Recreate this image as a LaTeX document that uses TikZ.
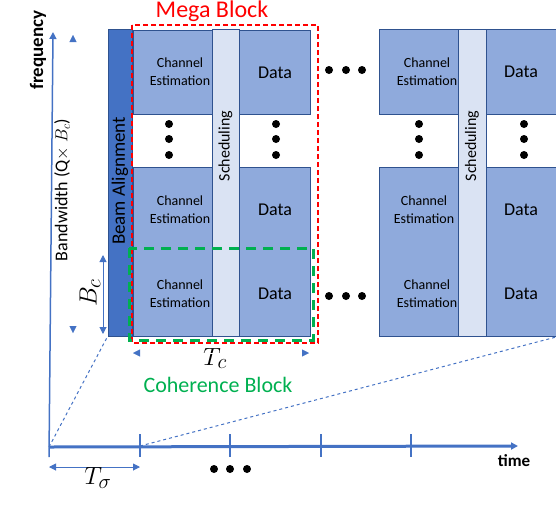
\documentclass[tikz,border=0pt]{standalone}
\usepackage{fontspec}
\setmainfont{Carlito}
\usetikzlibrary{arrows.meta}
\definecolor{cellblue}{HTML}{8FAADC}
\definecolor{schedblue}{HTML}{DAE3F3}
\definecolor{beamblue}{HTML}{4472C4}
\definecolor{edgeblue}{HTML}{2F528F}
\definecolor{axisblue}{HTML}{4472C4}
\definecolor{cohgreen}{HTML}{00B050}
\tikzset{
  cell/.style={draw=edgeblue, line width=0.8pt, fill=cellblue, inner sep=0pt},
  schedcol/.style={draw=edgeblue, line width=0.8pt, fill=schedblue, inner sep=0pt},
  cetext/.style={align=center, font=\fontsize{14}{18}\selectfont, inner sep=0pt},
  datatext/.style={font=\fontsize{18}{20}\selectfont, inner sep=0pt},
  tri/.tip={Triangle[length=7pt,width=7pt,color=axisblue]},
}
\begin{document}
\begin{tikzpicture}[x=1pt,y=-1pt]
\useasboundingbox (0,0) rectangle (556,520);
%\draw[step=50,gray,very thin] (0,0) grid (556,520); %background grid
\node[cell, fill=beamblue, minimum width=24, minimum height=307] (beam) at (120,182.5) {};
\node[cell, minimum width=79, minimum height=84] (ce1) at (172.5,72) {};
\node[cell, minimum width=79, minimum height=169] (ce2) at (172.5,251.5) {};
\node[cell, minimum width=71, minimum height=84] (da1) at (274.5,72) {};
\node[cell, minimum width=71, minimum height=169] (da2) at (274.5,251.5) {};
\node[cetext] (cet1) at (180,72) {Channel\\Estimation};
\node[cetext] (cet2) at (180,210) {Channel\\Estimation};
\node[cetext] (cet3) at (180,294) {Channel\\Estimation};
\node[schedcol, minimum width=27, minimum height=307] (sc1) at (225.5,182.5) {};
\node[datatext] (dat1) at (275,73) {Data};
\node[datatext] (dat2) at (275,210) {Data};
\node[datatext] (dat3) at (275,294) {Data};
\node[rotate=90, inner sep=0pt, font=\fontsize{16}{16}\selectfont] (sct1) at (225.5,146) {Scheduling};
\node[rotate=90, inner sep=0pt, font=\fontsize{19}{19}\selectfont] (beamt) at (120,181) {Beam Alignment};

\node[cell, minimum width=79, minimum height=85] (ce3) at (418.5,71.5) {};
\node[cell, minimum width=79, minimum height=169] (ce4) at (418.5,251.5) {};
\node[cell, minimum width=72, minimum height=85] (da3) at (522,71.5) {};
\node[cell, minimum width=72, minimum height=169] (da4) at (522,251.5) {};
\node[cetext] (cet4) at (427,72) {Channel\\Estimation};
\node[cetext] (cet5) at (424,210) {Channel\\Estimation};
\node[cetext] (cet6) at (427,294) {Channel\\Estimation};
\node[schedcol, minimum width=28, minimum height=307] (sc2) at (472,182.5) {};
\node[datatext] (dat4) at (521,72) {Data};
\node[datatext] (dat5) at (521,210) {Data};
\node[datatext] (dat6) at (521,294) {Data};
\node[rotate=90, inner sep=0pt, font=\fontsize{16}{16}\selectfont] (sct2) at (472,146) {Scheduling};

\foreach \y in {124,139,155} {
  \fill (169,\y) circle (4);
  \fill (276,\y) circle (4);
  \fill (419,\y) circle (4);
  \fill (524,\y) circle (4);
}
\foreach \x in {329,346,362} {
  \fill (\x,70) circle (4);
  \fill (\x,296) circle (4);
}
\foreach \x in {214,230,247} \fill (\x,469) circle (4);

\draw[red, line width=1.5pt, dash pattern=on 5pt off 3pt] (132,25) rectangle (318,343);
\draw[cohgreen, line width=3pt, dash pattern=on 10pt off 7pt] (129,248) rectangle (313,340);
\node[red, anchor=base, inner sep=0pt, font=\fontsize{24}{24}\selectfont] (mega) at (212,17) {Mega Block};
\node[cohgreen, anchor=base, inner sep=0pt, font=\fontsize{22}{22}\selectfont] (coh) at (218,392) {Coherence Block};
\node[anchor=base, inner sep=0pt, font=\Huge] (tc) at (215,365) {$T_c$};

\coordinate (origin) at (49,447);
\coordinate (ftop) at (53,32);
\coordinate (tend) at (518,446);
\draw[axisblue, line width=1.5pt, -{tri}] (49,457) -- (ftop);
\draw[axisblue, line width=3pt, -{tri}] (origin) -- (tend);
\foreach \x in {140,230,321,411} \draw[axisblue, line width=2pt] (\x,434) -- (\x,457);
\draw[axisblue, line width=1pt, dashed] (origin) -- (beam.south west);
\draw[axisblue, line width=1pt, dashed] (140,446) -- (da4.south east);
\draw[white, line width=0.4pt, {tri}-{tri}] (73,35) -- (73,333);
\draw[white, line width=0.4pt, {tri}-{tri}] (133,353) -- (309,353);
\draw[axisblue, line width=1pt, {tri}-{tri}] (103,255) -- (103,334);
\draw[axisblue, line width=1pt, {tri}-{tri}] (49,467) -- (140,467);

\node[rotate=90, inner sep=0pt, font=\fontsize{18}{18}\selectfont] (bw) at (62,190) {Bandwidth (Q$\times$ $B_c$)};
\node[rotate=90, font=\Huge] (bc) at (90,293) {$B_c$};
\node[font=\Huge] (ts) at (98,478) {$T_\sigma$};
\node[rotate=90, font=\bfseries\fontsize{19}{19}\selectfont] (freq) at (38,50) {frequency};
\node[font=\bfseries\fontsize{17}{17}\selectfont] (time) at (514,461) {time};
\end{tikzpicture}
\end{document}
